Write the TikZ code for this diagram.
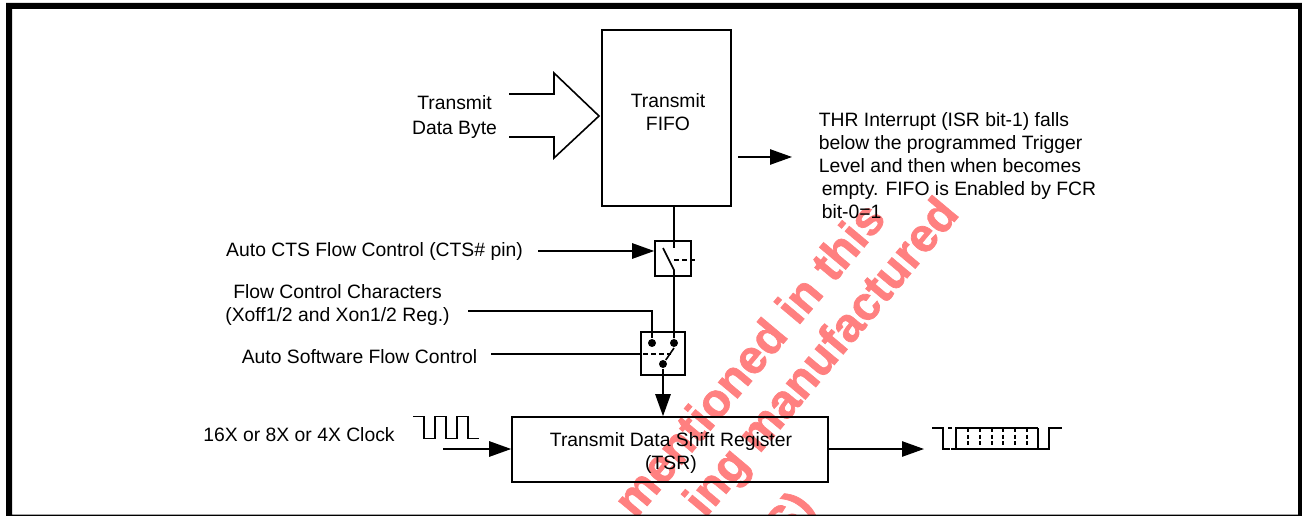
\documentclass[tikz,border=0pt]{standalone}
\usepackage{fontspec}
\setmainfont{Liberation Sans}
\newfontfamily\wmfont[FakeBold=1.5]{Liberation Sans Bold}
\usepackage{tikz}
\usetikzlibrary{arrows.meta}
\usetikzlibrary{positioning}

\begin{document}
\begin{tikzpicture}[x=0.75pt,y=-0.75pt,>={Stealth[inset=0pt,length=16.5pt,width=11.5pt]},line width=1.2pt,node distance = 0pt]
\tikzstyle{v}=[inner sep=0pt,align=center,font=\fontsize{14.5}{17.25}\selectfont]
\tikzstyle{b}=[draw,inner sep=0pt,align=center]
\tikzstyle{d}=[circle,fill,inner sep=0pt,minimum size=6pt]
\tikzstyle{w}=[inner sep=0pt,anchor=base east,rotate=50,text=red!50,font=\wmfont\fontsize{35.5}{36}\selectfont]
\useasboundingbox (0,0) rectangle (1302,516);
\begin{scope}
\clip (12,9) rectangle (1298,514.5);
\node[w]	(wm1)	at (888,219)	{mentioned in this};
\node[w]	(wm2)	at (961,214)	{ing manufactured};
\node[w]	(wm3)	at (817,508)	{S)};
\end{scope}
\fill[even odd rule] (6,3) rectangle (1302,516) (12,9) rectangle (1298,514.5);
\node[b,minimum width=97pt,minimum height=132pt]	(fifo)	at (666.5,118)	{};
\node[b,minimum width=237pt,minimum height=48.75pt]	(tsr)	at (670,449.5)	{};
\node[b,minimum width=27pt,minimum height=26.25pt]	(cts)	at (673,258.5)	{};
\node[b,minimum width=33pt,minimum height=32.25pt]	(sws)	at (663,353.5)	{};
\node[v]	(lfifo)	at (668,112.5)	{Transmit\\FIFO};
\node[v]	(ltsr)	at (671,453)	{Transmit Data Shift Register\\(TSR)};
\node[v]	(lbyte)	at (454.5,117)	{Transmit\\[1pt]Data Byte};
\node[v]	(lcts)	at (374.5,252)	{Auto CTS Flow Control (CTS\# pin)};
\node[v]	(lchar)	at (337.5,305)	{Flow Control Characters\\(Xoff1/2 and Xon1/2 Reg.)};
\node[v]	(lsoft)	at (359.5,357)	{Auto Software Flow Control};
\node[v]	(lclk)	at (299,434.5)	{16X or 8X or 4X Clock};
\node[v,anchor=north west,align=left]	(lthr)	at (818,112)	{THR Interrupt (ISR bit-1) falls\\below the programmed Trigger\\Level and then when becomes};
\node[v,anchor=north west,align=left]	(lthr2)	at (821,181)	{empty. FIFO is Enabled by FCR\\bit-0=1};
\node[d]	(d1)	at (652,343)	{};
\node[d]	(d2)	at (674,343)	{};
\node[d]	(d3)	at (663,364)	{};
\coordinate	(c1)	at (674,248);
\coordinate	(c2)	at (663,248);
\coordinate	(c3)	at (674,270);
\coordinate	(c4)	at (674,260);
\coordinate	(c5)	at (697,260);
\coordinate	(c6)	at (674,348);
\coordinate	(c7)	at (643,354);
\coordinate	(c8)	at (671,354);
\coordinate	(a1)	at (538,251);
\coordinate	(a2)	at (443,449);
\coordinate	(a3)	at (738,157);
\coordinate	(a4)	at (792,157);
\coordinate	(a5)	at (924,449);
\coordinate	(e1)	at (468,311);
\coordinate	(e2)	at (652,311);
\coordinate	(e3)	at (491,354);
\draw (c1 |- fifo.south) -- (c1);
\draw (c2) -- (c3) -- (d2);
\draw[dashed,dash pattern=on 4pt off 2pt] (c4) -- (c5);
\draw (e1) -- (e2) -- (d1);
\draw (e3) -- (e3 -| sws.west);
\draw[dashed,dash pattern=on 4pt off 2pt] (c7) -- (c8);
\draw (d3) -- (c6);
\path[->]	(d3)	edge	(d3 |- tsr.north)
	(a1)	edge	(a1 -| cts.west)
	(a2)	edge	(a2 -| tsr.west)
	(a3)	edge	(a4)
	(a2 -| tsr.east)	edge	(a5);
% block arrow into the fifo
\draw[line join=miter] (509,94) -- (554,94) -- (554,73) -- (599,116) -- (554,158) -- (554,137) -- (509,137);
% clock
\draw (413,416.5) -- (424,416.5) -- (424,438.5) -- (435,438.5) -- (435,416.5) -- (446,416.5) -- (446,438.5) -- (457,438.5) -- (457,416.5) -- (468,416.5) -- (468,438.5) -- (479,438.5);
% serial data
\draw (932,428) -- (943,428) -- (943,449) -- (950,449);
\draw (1038,428) -- (956,428) -- (956,449) -- (1049,449) -- (1049,428) -- (1062,428);
\draw (1038,428) -- (1038,449);
\draw[line width=1pt,dashed,dash pattern=on 3pt off 2pt] (948,428) -- (954,428) (951,449) -- (956,449);
\foreach \i in {968,980,992,1003,1015,1027}
	\draw[line width=1pt,dash pattern=on 3pt off 2pt] (\i,428) -- (\i,449);
\end{tikzpicture}
\end{document}
